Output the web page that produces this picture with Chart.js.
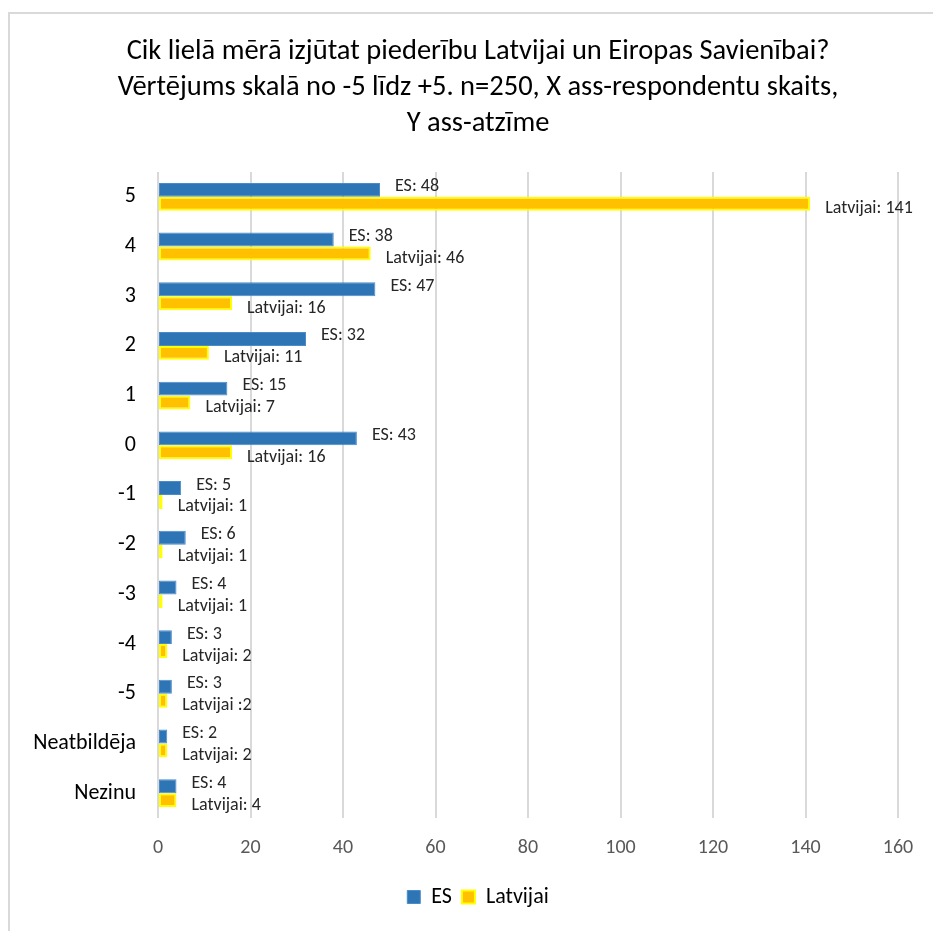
<!DOCTYPE html>
<html>
<head>
<meta charset="utf-8">
<script src="https://cdn.jsdelivr.net/npm/chart.js@4.4.1/dist/chart.umd.min.js"></script>
<style>
  html, body { margin:0; padding:0; background:#fff; width:933px; height:931px; overflow:hidden; }
  #frame { position:absolute; left:8px; top:12px; width:960px; height:960px; border-left:2px solid #d9d9d9; border-top:2px solid #d9d9d9; }
  #wrap { position:absolute; left:0; top:0; width:956px; height:931px; }
</style>
</head>
<body>
<div id="frame"></div>
<div id="wrap"><canvas id="c" width="956" height="931"></canvas></div>
<script>
const titleLines = [
  'Cik lielā mērā izjūtat piederību Latvijai un Eiropas Savienībai?',
  'Vērtējums skalā no -5 līdz +5. n=250, X ass-respondentu skaits,',
  'Y ass-atzīme'
];
const categories = ['5','4','3','2','1','0','-1','-2','-3','-4','-5','Neatbildēja','Nezinu'];
const esValues = [48,38,47,32,15,43,5,6,4,3,3,2,4];
const lvValues = [141,46,16,11,7,16,1,1,1,2,2,2,4];
const esName = 'ES';
const lvName = 'Latvijai';
const esLabelText = esValues.map(v => 'ES: ' + v);
const lvLabelText = lvValues.map(v => 'Latvijai: ' + v);
lvLabelText[10] = 'Latvijai :2';
const xTicks = [0,20,40,60,80,100,120,140,160];

const FONT = 'Carlito, Calibri, Lato, "Open Sans", sans-serif';

const labelPlugin = {
  id: 'barLabels',
  afterDatasetsDraw(chart) {
    const ctx = chart.ctx;
    ctx.save();
    ctx.font = '18px ' + FONT;
    ctx.fillStyle = '#262626';
    ctx.textAlign = 'left';
    ctx.textBaseline = 'middle';
    const texts = [esLabelText, lvLabelText];
    const dys = [-3, 5];
    chart.data.datasets.forEach((ds, di) => {
      const meta = chart.getDatasetMeta(di);
      meta.data.forEach((el, i) => {
        ctx.fillText(texts[di][i], el.x + 15, el.y + dys[di]);
      });
    });
    ctx.restore();
  }
};

new Chart(document.getElementById('c'), {
  type: 'bar',
  data: {
    labels: categories,
    datasets: [
      { label: esName, data: esValues, backgroundColor: '#2E75B6', borderColor: '#4B8BC9', borderWidth: 1, borderSkipped: false,
        categoryPercentage: 0.56, barPercentage: 1.0 },
      { label: lvName, data: lvValues, backgroundColor: '#FFC000', borderColor: '#FFFF00', borderWidth: 2, borderSkipped: false,
        categoryPercentage: 0.56, barPercentage: 1.0 }
    ]
  },
  options: {
    indexAxis: 'y',
    responsive: false,
    animation: false,
    layout: { padding: { left: 0, right: 0, top: 0, bottom: 13 } },
    scales: {
      x: {
        min: 0, max: 160,
        afterBuildTicks(scale) { scale.ticks = xTicks.map(v => ({ value: v })); },
        grid: { color: '#d9d9d9', lineWidth: 2, drawTicks: false },
        border: { display: false },
        ticks: { color: '#595959', font: { family: FONT, size: 20 }, padding: 18 },
        afterFit(scale) { scale.height = 58; }
      },
      y: {
        grid: { display: false, drawTicks: false },
        border: { display: false },
        ticks: { color: '#000', font: { family: FONT, size: 22 }, padding: 22 },
        afterFit(scale) { scale.width = 158; }
      },
      yR: {
        type: 'linear',
        position: 'right',
        display: true,
        grid: { display: false, drawTicks: false },
        border: { display: false },
        ticks: { display: false },
        afterFit(scale) { scale.width = 58; }
      }
    },
    plugins: {
      title: {
        display: true,
        text: titleLines,
        color: '#000',
        font: { family: FONT, size: 28.5, weight: 'normal', lineHeight: 1.263 },
        padding: { top: 34, bottom: 30 }
      },
      legend: {
        position: 'bottom',
        labels: { color: '#000', font: { family: FONT, size: 22 }, boxWidth: 13, boxHeight: 13, padding: 10 }
      },
      tooltip: { enabled: false }
    }
  },
  plugins: [labelPlugin]
});
</script>
</body>
</html>
